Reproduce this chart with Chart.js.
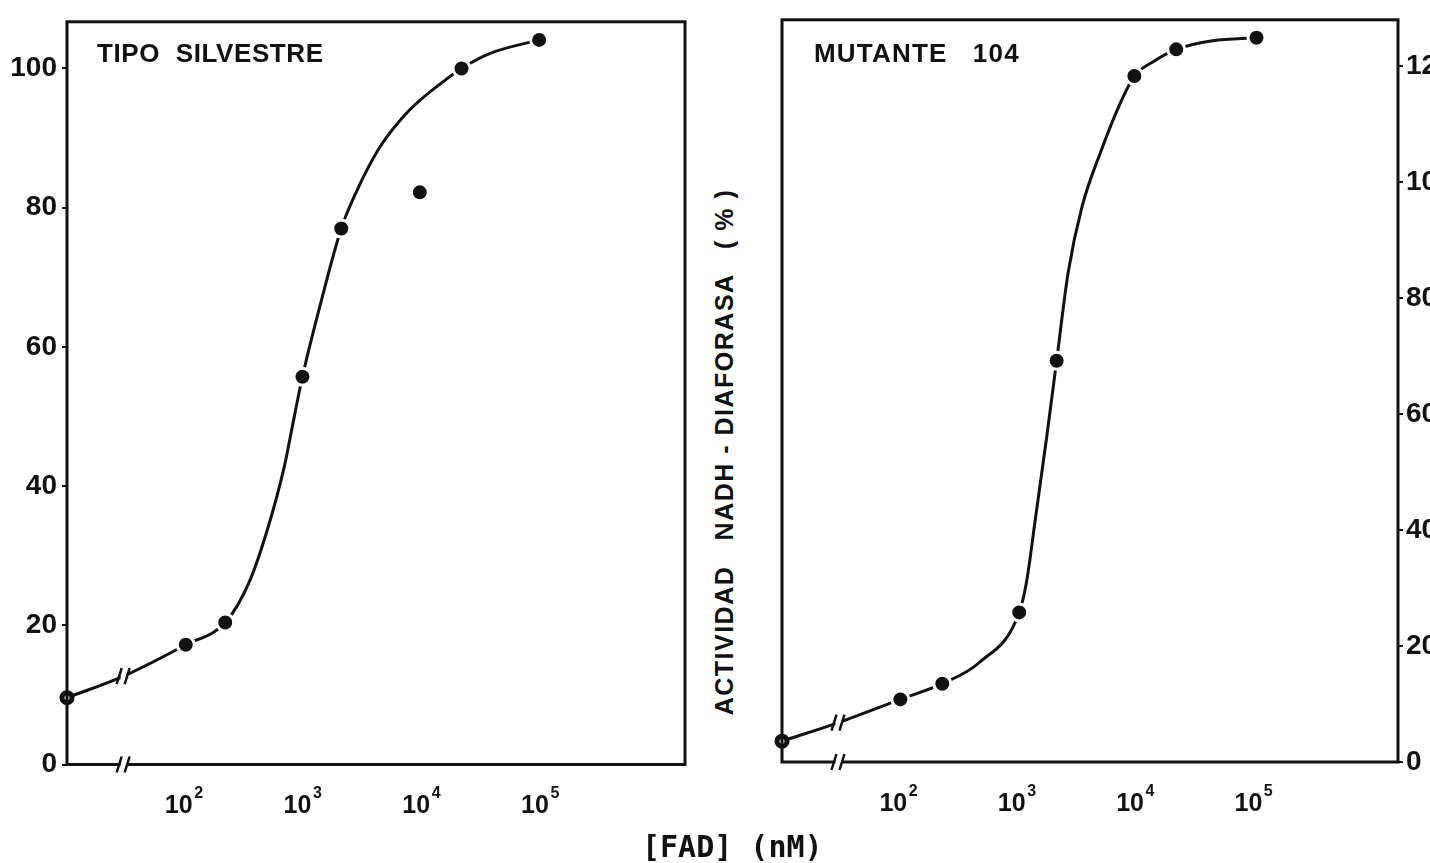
<!DOCTYPE html>
<html>
<head>
<meta charset="utf-8">
<script src="https://cdn.jsdelivr.net/npm/chart.js@4.4.0/dist/chart.umd.min.js"></script>
<style>
    html, body { margin: 0; padding: 0; background: #fff; }
    body { width: 1430px; height: 863px; position: relative; overflow: hidden; }
    canvas { position: absolute; top: 0; }
    #left-chart { left: 0; }
    #right-chart { left: 740px; }
    .panel-label {
        position: absolute; top: 40px;
        font: bold 26px "Liberation Sans", Arial, sans-serif;
        line-height: 26px; white-space: pre; letter-spacing: 0.6px; color: #111;
    }
    #y-title {
        position: absolute; left: 724px; top: 452px;
        transform: translate(-50%, -50%) rotate(-90deg);
        font: bold 25px "Liberation Sans", Arial, sans-serif;
        line-height: 25px; letter-spacing: 1.5px; white-space: pre; color: #111;
    }
    #x-title {
        position: absolute; left: 642px; top: 832px;
        font: bold 30px "DejaVu Sans Mono", monospace;
        line-height: 30px; white-space: pre; color: #111;
    }
</style>
</head>
<body>
<canvas id="left-chart" width="700" height="863"></canvas>
<canvas id="right-chart" width="690" height="863"></canvas>
<div class="panel-label" style="left:97px">TIPO  SILVESTRE</div>
<div class="panel-label" style="left:814px; letter-spacing:1.2px">MUTANTE   104</div>
<div id="y-title">ACTIVIDAD   NADH - DIAFORASA   ( % )</div>
<div id="x-title">[FAD] (nM)</div>

<script>
// Axe des x : [FAD] en nM, echelle log (le premier point = sans FAD, pose sur l'axe)
const xTicks = [1e2, 1e3, 1e4, 1e5];
const xTickBase = '10';
const xTickExponents = ['2', '3', '4', '5'];
const breakX = 30;   // coupure de l'axe

// Tipo silvestre
const wtPointsX = [10, 100, 215, 960, 2040, 21000, 94600];
const wtPointsY = [9.6, 17.2, 20.4, 55.7, 77.0, 100.0, 104.1];
const wtOutlierX = [9350];
const wtOutlierY = [82.2];
const wtCurveX = [10, 30, 100, 215, 340, 478, 676, 770, 960, 1360, 2040, 2720, 4200, 6500, 9200, 15500, 21000, 37000, 94600];
const wtCurveY = [9.6, 12.7, 17.2, 20.4, 26.1, 33.3, 42.8, 47.6, 55.7, 66.1, 77.0, 82.2, 88.4, 92.7, 95.3, 98.4, 100.0, 102.2, 104.1];

// Mutante 104
const mutPointsX = [10, 100, 226, 1010, 2090, 9480, 21400, 102000];
const mutPointsY = [3.6, 10.8, 13.5, 25.8, 69.2, 118.3, 122.9, 124.9];
const mutCurveX = [10, 30, 100, 226, 467, 1010, 1160, 1390, 1740, 2090, 2620, 3440, 4940, 7090, 9480, 14000, 21400, 43500, 102000];
const mutCurveY = [3.6, 6.8, 10.8, 13.5, 17.2, 25.8, 30.9, 42.3, 56.7, 69.2, 84.5, 95.9, 105.3, 113.3, 118.3, 120.9, 122.9, 124.4, 124.9];

// Axes y
const wtYTicks = [0, 20, 40, 60, 80, 100];
const mutYTicks = [0, 20, 40, 60, 80, 100, 120];

const ink = '#111';
const tickFont = '"Liberation Sans", "DejaVu Sans", Arial, sans-serif';
const xLabelPadding = 19;
const xLabelOffset = -7;

function toXY(xs, ys) {
    return xs.map((x, i) => ({ x: x, y: ys[i] }));
}

// Petites barres obliques de coupure
function drawBreak(ctx, x, y) {
    ctx.fillStyle = '#fff';
    ctx.fillRect(x - 3, y - 3, 6, 6);
    ctx.beginPath();
    ctx.moveTo(x - 7, y + 8); ctx.lineTo(x - 2, y - 8);
    ctx.moveTo(x + 1, y + 8); ctx.lineTo(x + 6, y - 8);
    ctx.lineWidth = 2.5;
    ctx.strokeStyle = ink;
    ctx.stroke();
}

// Cadre, coupures et exposants des etiquettes x
const framePlugin = {
    id: 'frame',
    afterDraw(chart) {
        const ctx = chart.ctx;
        const a = chart.chartArea;
        const xs = chart.scales.x;
        ctx.save();
        ctx.strokeStyle = ink;
        ctx.lineWidth = 3;
        ctx.strokeRect(a.left, a.top, a.right - a.left, a.bottom - a.top);

        const bx = xs.getPixelForValue(breakX);
        drawBreak(ctx, bx, a.bottom);
        const last = chart.data.datasets.length - 1;
        const curve = chart.data.datasets[last].data;
        const idx = curve.findIndex(p => p.x === breakX);
        if (idx >= 0) {
            drawBreak(ctx, bx, chart.getDatasetMeta(last).data[idx].y);
        }

        // exposants : 10², 10³ ...
        ctx.font = 'bold 25px ' + tickFont;
        const w = ctx.measureText(xTickBase).width;
        const digitCenter = xs.top + xLabelPadding + 19.5;
        ctx.font = 'bold 16px ' + tickFont;
        ctx.fillStyle = ink;
        ctx.textAlign = 'left';
        ctx.textBaseline = 'alphabetic';
        xTicks.forEach((v, i) => {
            const px = xs.getPixelForValue(v) + xLabelOffset + w / 2 + 1.5;
            ctx.fillText(xTickExponents[i], px, digitCenter - 5);
        });
        ctx.restore();
    }
};

function pointDataset(data) {
    const isZero = c => c.raw && c.raw.x === 10;
    return {
        data: data,
        showLine: false,
        clip: false,
        order: 0,
        pointRadius: c => isZero(c) ? 5 : 8.5,
        pointBackgroundColor: c => isZero(c) ? '#fff' : ink,
        pointBorderColor: c => isZero(c) ? ink : '#fff',
        pointBorderWidth: c => isZero(c) ? 5 : 3
    };
}

function makePanel(canvasId, opts) {
    const datasets = opts.points.map(pointDataset);
    datasets.push({
        data: opts.curve,
        borderColor: ink,
        borderWidth: 3,
        pointRadius: 0,
        fill: false,
        clip: false,
        order: 1,
        cubicInterpolationMode: 'monotone'
    });

    return new Chart(document.getElementById(canvasId), {
        type: 'line',
        data: { datasets: datasets },
        options: {
            responsive: false,
            animation: false,
            layout: { padding: opts.padding },
            plugins: { legend: { display: false }, tooltip: { enabled: false } },
            scales: {
                x: {
                    type: 'logarithmic',
                    min: 10,
                    max: 1.6e6,
                    afterBuildTicks: s => { s.ticks = xTicks.map(v => ({ value: v })); },
                    afterFit: s => { s.height = opts.xHeight; },
                    grid: { display: false },
                    border: { display: false },
                    ticks: {
                        autoSkip: false,
                        maxRotation: 0,
                        padding: xLabelPadding,
                        labelOffset: xLabelOffset,
                        color: ink,
                        font: { family: tickFont, size: 25, weight: 'bold' },
                        callback: () => xTickBase
                    }
                },
                y: {
                    position: opts.yPosition,
                    min: 0,
                    max: opts.yMax,
                    afterBuildTicks: s => { s.ticks = opts.yTicks.map(v => ({ value: v })); },
                    afterFit: s => { s.width = opts.yWidth; },
                    grid: { drawOnChartArea: false, tickLength: 5, color: ink, lineWidth: 2 },
                    border: { display: false },
                    ticks: {
                        padding: opts.yPad,
                        color: ink,
                        font: { family: tickFont, size: 28, weight: 'bold' }
                    }
                }
            }
        },
        plugins: [framePlugin]
    });
}

makePanel('left-chart', {
    points: [toXY(wtPointsX, wtPointsY), toXY(wtOutlierX, wtOutlierY)],
    curve: toXY(wtCurveX, wtCurveY),
    padding: { top: 15, right: 15, left: 0, bottom: 0 },
    xHeight: 98.5,
    yPosition: 'left',
    yMax: 106.7,
    yTicks: wtYTicks,
    yWidth: 67,
    yPad: 5
});

makePanel('right-chart', {
    points: [toXY(mutPointsX, mutPointsY)],
    curve: toXY(mutCurveX, mutCurveY),
    padding: { top: 12, right: 0, left: 42, bottom: 0 },
    xHeight: 101,
    yPosition: 'right',
    yMax: 128,
    yTicks: mutYTicks,
    yWidth: 32,
    yPad: 3
});
</script>
</body>
</html>
